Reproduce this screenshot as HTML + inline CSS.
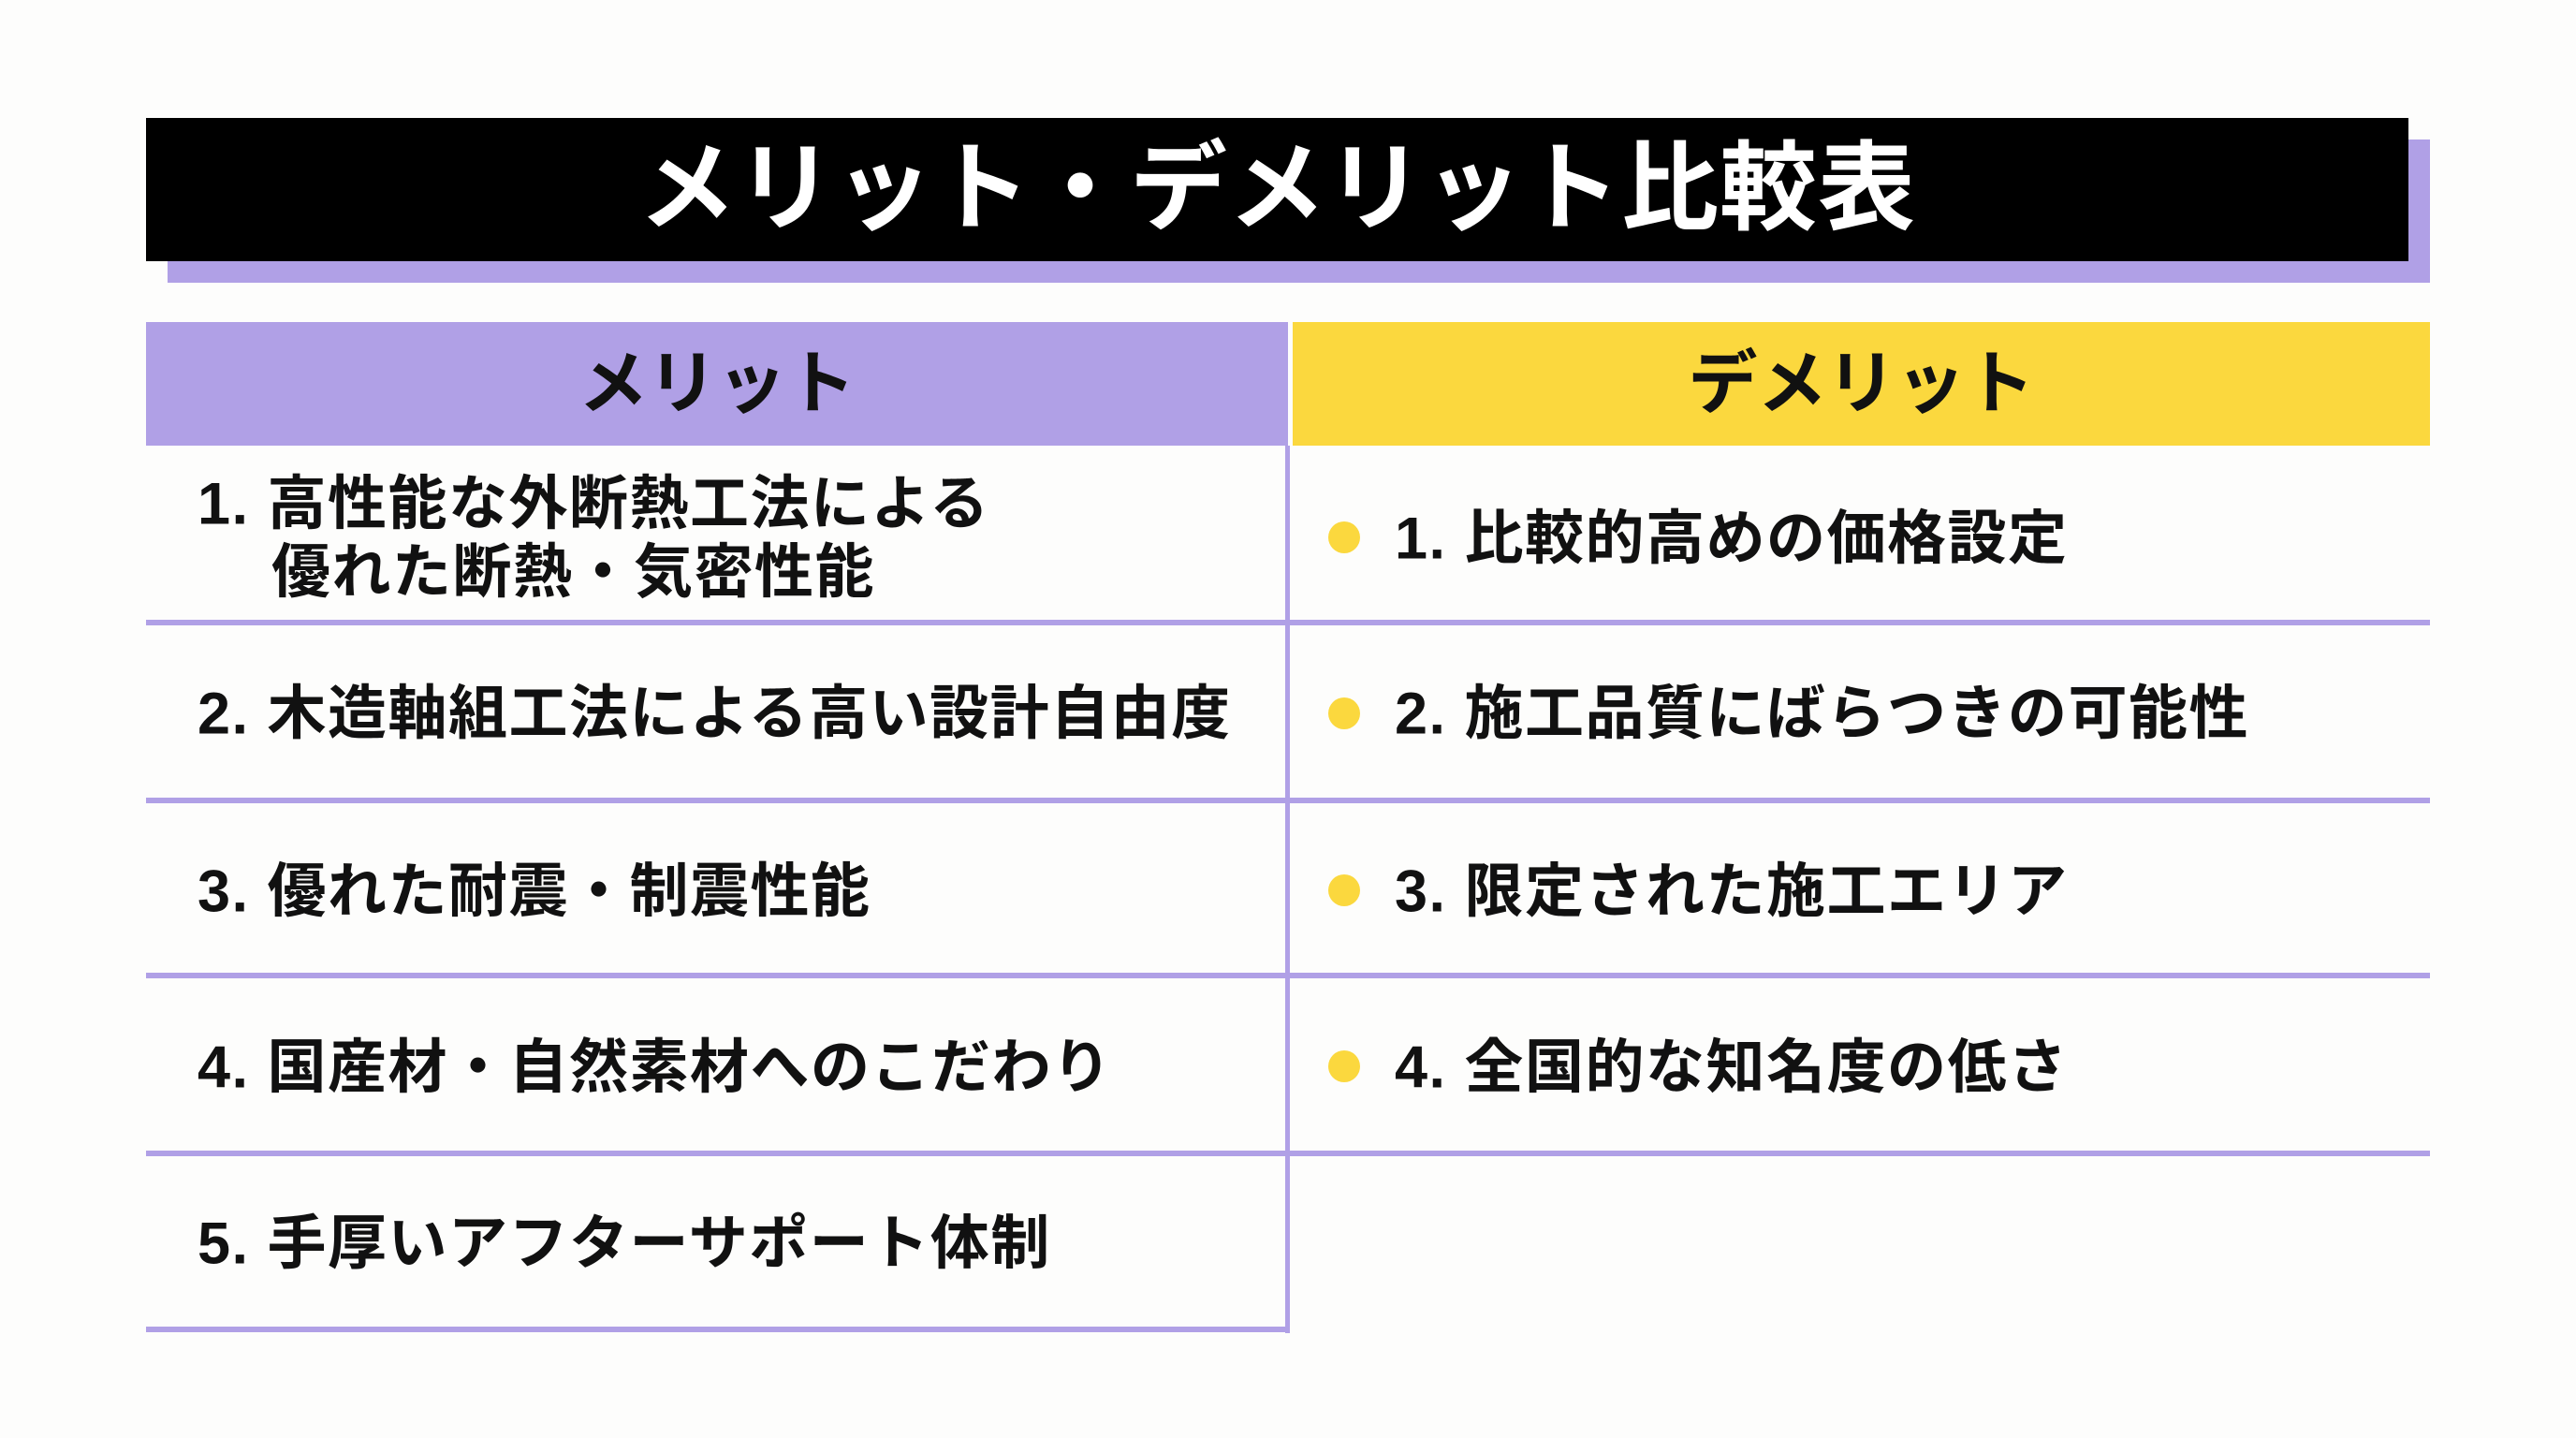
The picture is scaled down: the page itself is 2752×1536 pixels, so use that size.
<!DOCTYPE html>
<html><head><meta charset="utf-8"><style>
html,body{margin:0;padding:0}
body{width:2752px;height:1536px;background:#fdfdfc;position:relative;overflow:hidden;font-family:"Liberation Sans","Noto Sans CJK JP",sans-serif;font-weight:700;color:#111}
div{position:absolute;box-sizing:border-box}
.t{white-space:nowrap;font-size:63px;line-height:1;letter-spacing:1.5px;transform:translateY(-50%)}
.h{background:#b0a0e6}
.d{width:34px;height:34px;border-radius:50%;background:#fbd83e;left:1419px;transform:translateY(-50%)}
</style></head><body>
<div style="left:179px;top:149px;width:2417px;height:153px;background:#b0a0e6"></div>
<div style="left:156px;top:126px;width:2417px;height:153px;background:#000"></div>
<div style="left:156px;top:126px;width:2417px;height:153px;color:#fff;font-size:104px;line-height:153px;text-align:center;letter-spacing:1px">メリット・デメリット比較表</div>

<div style="left:156px;top:344px;width:1220px;height:132px;background:#b0a0e6;font-size:74px;line-height:132px;text-align:center">メリット</div>
<div style="left:1381px;top:344px;width:1215px;height:132px;background:#fbd83e;font-size:74px;line-height:132px;text-align:center">デメリット</div>

<div class="h" style="left:1373px;top:476px;width:5px;height:948px"></div>
<div class="h" style="left:156px;top:662px;width:2440px;height:6px"></div>
<div class="h" style="left:156px;top:852px;width:2440px;height:6px"></div>
<div class="h" style="left:156px;top:1039px;width:2440px;height:6px"></div>
<div class="h" style="left:156px;top:1229px;width:2440px;height:6px"></div>
<div class="h" style="left:156px;top:1417px;width:1222px;height:6px"></div>

<div class="t" style="left:211px;top:539px">1.&nbsp;高性能な外断熱工法による</div>
<div class="t" style="left:290px;top:612px">優れた断熱・気密性能</div>
<div class="t" style="left:211px;top:763px">2.&nbsp;木造軸組工法による高い設計自由度</div>
<div class="t" style="left:211px;top:953px">3.&nbsp;優れた耐震・制震性能</div>
<div class="t" style="left:211px;top:1141px">4.&nbsp;国産材・自然素材へのこだわり</div>
<div class="t" style="left:211px;top:1329px">5.&nbsp;手厚いアフターサポート体制</div>

<div class="d" style="top:574px"></div>
<div class="d" style="top:762px"></div>
<div class="d" style="top:951px"></div>
<div class="d" style="top:1139px"></div>
<div class="t" style="left:1490px;top:576px">1.&nbsp;比較的高めの価格設定</div>
<div class="t" style="left:1490px;top:763px">2.&nbsp;施工品質にばらつきの可能性</div>
<div class="t" style="left:1490px;top:953px">3.&nbsp;限定された施工エリア</div>
<div class="t" style="left:1490px;top:1141px">4.&nbsp;全国的な知名度の低さ</div>
</body></html>
